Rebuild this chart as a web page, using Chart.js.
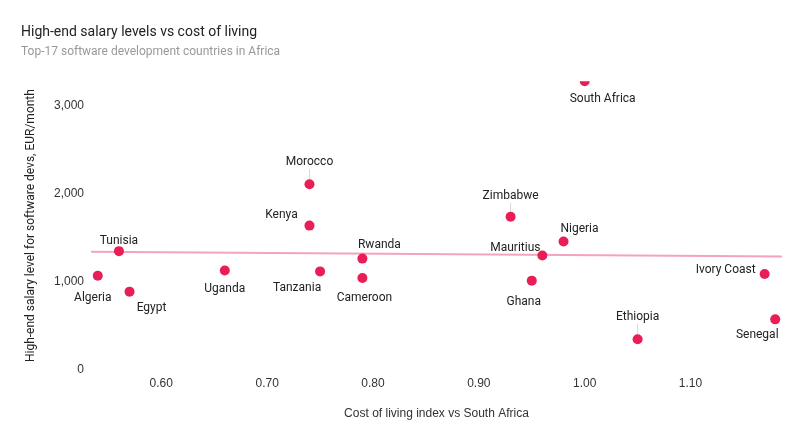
<!DOCTYPE html>
<html><head><meta charset="utf-8">
<script src="https://cdn.jsdelivr.net/npm/chart.js@4/dist/chart.umd.min.js"></script>
<style>html,body{margin:0;padding:0;background:#fff}#wrap{width:805px;height:443px}</style>
</head><body><div id="wrap"><canvas id="c" width="805" height="443"></canvas></div>
<script>
// ---- data ----
const countries = ["South Africa","Morocco","Kenya","Tunisia","Algeria","Egypt","Uganda","Tanzania","Rwanda","Cameroon","Zimbabwe","Nigeria","Mauritius","Ghana","Ethiopia","Ivory Coast","Senegal"];
const costIndex = [1.00,0.74,0.74,0.56,0.54,0.57,0.66,0.75,0.79,0.79,0.93,0.98,0.96,0.95,1.05,1.17,1.18];
const salary    = [3280,2110,1640,1350,1070,890,1130,1120,1265,1045,1740,1460,1300,1015,350,1090,575];
const trendX = [0.5336, 1.1864];
const trendY = [1344, 1288];
const xTicks = [0.60,0.70,0.80,0.90,1.00,1.10];
const yTicks = [0,1000,2000,3000];

// ---- label layout (pixel offsets of label centre from point) ----
const labelOffsets = [[18,18],[0,-22],[-28,-11],[0,-10],[-5,22],[22,16],[0,18],[-23,17],[17,-14],[2,20],[0,-21],[16,-12],[-27,-8],[-8,21],[0,-22],[-39,-4],[-18,16]];
const leader = [false,true,false,false,false,false,false,false,false,false,true,false,false,false,true,false,false];

const points = costIndex.map((x,i)=>({x:x,y:salary[i]}));
const trend = trendX.map((x,i)=>({x:x,y:trendY[i]}));

const labelPlugin = {
  id:'pointLabels',
  beforeDatasetsDraw(chart){
    const meta = chart.getDatasetMeta(0);
    const ctx = chart.ctx;
    ctx.save();
    ctx.strokeStyle = '#d8d8d8';
    ctx.lineWidth = 1;
    meta.data.forEach((el,i)=>{
      if(!leader[i]) return;
      const [dx,dy] = labelOffsets[i];
      const s = Math.sign(dy);
      ctx.beginPath();
      ctx.moveTo(el.x, el.y + s*5);
      ctx.lineTo(el.x + dx, el.y + dy - s*7);
      ctx.stroke();
    });
    ctx.restore();
  },
  afterDatasetsDraw(chart){
    const meta = chart.getDatasetMeta(0);
    const ctx = chart.ctx;
    ctx.save();
    ctx.font = '12px Roboto';
    ctx.fillStyle = '#222';
    ctx.textAlign = 'center';
    ctx.textBaseline = 'middle';
    meta.data.forEach((el,i)=>{
      const [dx,dy] = labelOffsets[i];
      ctx.fillText(countries[i], el.x+dx, el.y+dy);
    });
    ctx.restore();
  }
};

new Chart(document.getElementById('c'), {
  type:'scatter',
  data:{datasets:[
    {data:points, backgroundColor:'#e91e57', borderColor:'#e91e57', pointRadius:5, pointHoverRadius:5, borderWidth:0, clip:0, order:0},
    {type:'line', data:trend, showLine:true, borderColor:'#f5a3bc', borderWidth:2, pointRadius:0, fill:false, order:1}
  ]},
  options:{
    responsive:false, animation:false,
    layout:{padding:{left:21,right:23,top:0,bottom:0}},
    plugins:{
      legend:{display:false}, tooltip:{enabled:false},
      title:{display:true, text:'High-end salary levels vs cost of living', align:'start', color:'#222',
        font:{family:'Roboto', size:14, weight:'normal'}, padding:{top:24,bottom:4}},
      subtitle:{display:true, text:'Top-17 software development countries in Africa', align:'start', color:'#999',
        font:{family:'Roboto', size:12, weight:'normal'}, padding:{top:0,bottom:22}}
    },
    scales:{
      x:{type:'linear', min:0.5336, max:1.1864,
        afterBuildTicks(s){ s.ticks = xTicks.map(v=>({value:v})); },
        afterFit(s){ s.height = 73; },
        grid:{display:false, drawTicks:false}, border:{display:false},
        ticks:{padding:6, color:'#333', font:{family:'Liberation Sans', size:12}, callback:v=>Number(v).toFixed(2)},
        title:{display:true, text:'Cost of living index vs South Africa', color:'#333', font:{family:'Liberation Sans', size:12}, padding:{top:0,bottom:22}}
      },
      y:{type:'linear', min:0, max:3280,
        afterBuildTicks(s){ s.ticks = yTicks.map(v=>({value:v})); },
        afterFit(s){ s.width = 70; },
        grid:{display:false, drawTicks:false}, border:{display:false},
        ticks:{padding:7, color:'#333', font:{family:'Liberation Sans', size:12}, callback:v=>Number(v).toLocaleString('en-US')},
        title:{display:true, text:'High-end salary level for software devs, EUR/month', color:'#222', font:{family:'Roboto', size:12}, padding:{top:3,bottom:4}}
      }
    }
  },
  plugins:[labelPlugin]
});
</script></body></html>
